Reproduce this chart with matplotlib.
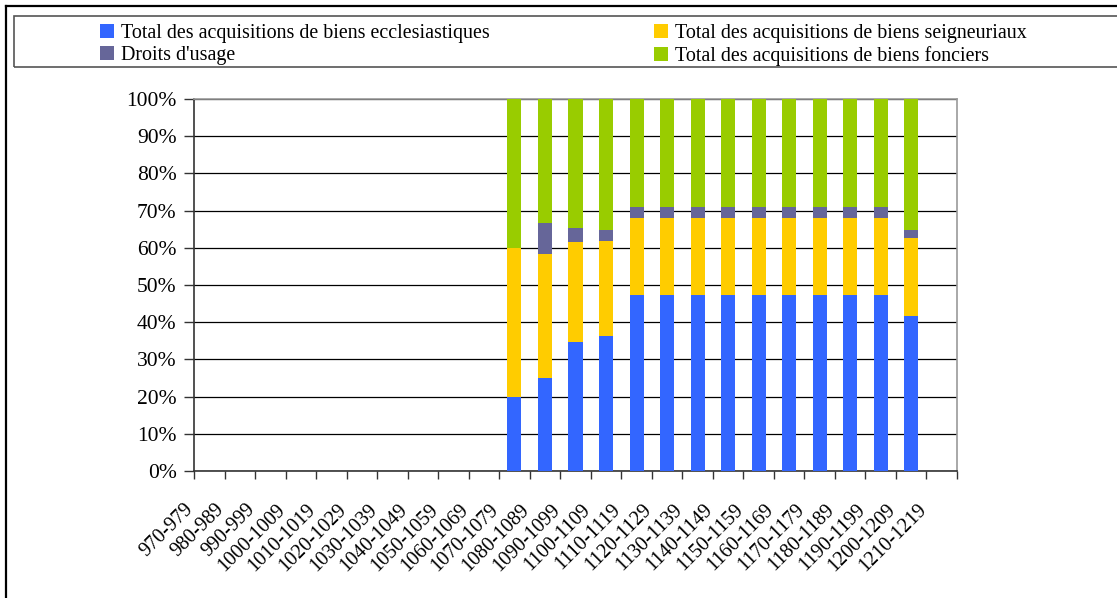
import numpy as np
import matplotlib
matplotlib.use('Agg')
import matplotlib.pyplot as plt
import matplotlib.transforms as mtransforms
from matplotlib.lines import Line2D
from matplotlib.patches import Rectangle

periods = ['970-979', '980-989', '990-999', '1000-1009', '1010-1019', '1020-1029',
           '1030-1039', '1040-1049', '1050-1059', '1060-1069', '1070-1079', '1080-1089',
           '1090-1099', '1100-1109', '1110-1119', '1120-1129', '1130-1139', '1140-1149',
           '1150-1159', '1160-1169', '1170-1179', '1180-1189', '1190-1199', '1200-1209',
           '1210-1219']

# shares in % per decade (no acquisitions recorded before 1070 or after 1209)
ecclesiastiques = [0, 0, 0, 0, 0, 0, 0, 0, 0, 0, 20.0, 25.0, 34.6, 36.3,
                   47.2, 47.2, 47.2, 47.2, 47.2, 47.2, 47.2, 47.2, 47.2, 41.8, 0]
seigneuriaux = [0, 0, 0, 0, 0, 0, 0, 0, 0, 0, 40.0, 33.3, 26.9, 25.4,
                20.9, 20.9, 20.9, 20.9, 20.9, 20.9, 20.9, 20.9, 20.9, 20.8, 0]
droits_usage = [0, 0, 0, 0, 0, 0, 0, 0, 0, 0, 0.0, 8.4, 3.9, 3.0,
                2.8, 2.8, 2.8, 2.8, 2.8, 2.8, 2.8, 2.8, 2.8, 2.1, 0]
fonciers = [0, 0, 0, 0, 0, 0, 0, 0, 0, 0, 40.0, 33.3, 34.6, 35.3,
            29.1, 29.1, 29.1, 29.1, 29.1, 29.1, 29.1, 29.1, 29.1, 35.3, 0]

series = [
    ('Total des acquisitions de biens ecclesiastiques', ecclesiastiques, '#3366FF'),
    ("Droits d'usage", droits_usage, '#666699'),
    ('Total des acquisitions de biens seigneuriaux', seigneuriaux, '#FFCC00'),
    ('Total des acquisitions de biens fonciers', fonciers, '#99CC00'),
]
stack_order = [0, 2, 1, 3]

plt.rcParams['font.family'] = ['Liberation Serif', 'DejaVu Serif']

fig = plt.figure(figsize=(11.17, 5.98), dpi=100)
ax = fig.add_axes([194 / 1117, 1 - 471 / 598, (957 - 194) / 1117, (471 - 99) / 598])

x = np.arange(len(periods))
bottom = np.zeros(len(periods))
bars = {}
for k in stack_order:
    name, vals, color = series[k]
    vals = np.array(vals, dtype=float)
    bars[k] = ax.bar(x, vals, 0.46, bottom=bottom, color=color, label=name,
                     edgecolor='none', zorder=3)
    bottom += vals

ax.set_xlim(-0.5, len(periods) - 0.5)
ax.set_ylim(0, 100)
ax.set_yticks(np.arange(0, 101, 10))
ax.set_yticklabels([f'{v}%' for v in range(0, 101, 10)])
ax.yaxis.grid(True, color='black', linewidth=0.9, zorder=1)

# category ticks sit on the boundaries, labels under each category
ax.set_xticks(np.arange(-0.5, len(periods), 1.0))
ax.set_xticklabels([])
ax.set_xticks(x, minor=True)
ax.set_xticklabels(periods, minor=True, rotation=45, ha='right',
                   rotation_mode='anchor', fontsize=14.5)
ax.tick_params(axis='x', which='minor', length=0, pad=21)
ax.tick_params(axis='x', which='major', direction='out', length=6, width=1, color='#333333')
ax.tick_params(axis='y', direction='out', length=7, width=1, color='#333333',
               labelsize=15.5, pad=5.5)
shift = mtransforms.ScaledTranslation(-25 / 100, 0, fig.dpi_scale_trans)
for lbl in ax.get_xticklabels(minor=True):
    lbl.set_transform(lbl.get_transform() + shift)

for side in ['top', 'right']:
    ax.spines[side].set_color('#999999')
    ax.spines[side].set_linewidth(1.2)
for side in ['left', 'bottom']:
    ax.spines[side].set_color('#333333')
    ax.spines[side].set_linewidth(1.2)

# legend frame and outer chart border
fig.add_artist(Rectangle((14 / 1117, 1 - 67 / 598), 1.2, 51 / 598,
                         transform=fig.transFigure, fill=False,
                         edgecolor='#555555', linewidth=1.2))
fig.add_artist(Line2D([6 / 1117, 6 / 1117], [0, 1 - 6 / 598],
                      transform=fig.transFigure, color='black', linewidth=1.6))
fig.add_artist(Line2D([6 / 1117, 1], [1 - 6 / 598, 1 - 6 / 598],
                      transform=fig.transFigure, color='black', linewidth=1.6))

handles = [bars[k] for k in range(4)]
labels = [series[k][0] for k in range(4)]
fig.legend(handles, labels, ncol=2, loc='upper left',
           bbox_to_anchor=(86 / 1117, 1 - 10 / 598), frameon=False,
           fontsize=14.4, handlelength=0.7, handleheight=0.7,
           handletextpad=0.35, columnspacing=8.2, labelspacing=0.15,
           borderpad=0.2)

fig.savefig('out.png', dpi=100)
